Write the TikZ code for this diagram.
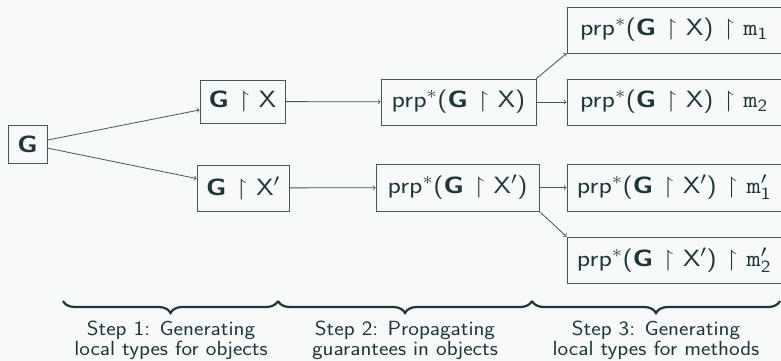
\documentclass[tikz,border=0pt]{standalone}
\usepackage{amssymb}
\usepackage{graphicx}
\usetikzlibrary{decorations.pathreplacing}
\definecolor{bgc}{HTML}{F8F9F9}
\definecolor{txt}{HTML}{1F363B}
\definecolor{lnc}{HTML}{44575B}
\newcommand{\Gb}{\textbf{G}}
\newcommand{\rs}{\hspace{0.33em}$\upharpoonright$\hspace{0.33em}}
\newcommand{\bx}[1]{\scalebox{1.18}[1]{#1}}
\newcommand{\cx}[1]{\scalebox{1.1}[1]{#1}}
\begin{document}
\begin{tikzpicture}[x=1pt,y=-1pt,
  box/.style={draw=lnc, line width=0.9pt, text=txt, font=\sffamily\fontsize{23.5}{28}\selectfont,
     inner xsep=0pt, inner ysep=0pt},
  conn/.style={->, draw=lnc, line width=0.8pt},
  brc/.style={decorate, decoration={brace, mirror, amplitude=12pt}, draw=txt, line width=2.2pt},
  captxt/.style={text=txt, font=\sffamily\fontsize{20.5}{20}\selectfont, align=center}]
\fill[bgc] (0,0) rectangle (781,361);
\useasboundingbox (0,0) rectangle (781,361);
\node[box, minimum width=39pt, minimum height=38pt] (G) at (27.5,144) {\bx{\Gb}};
\node[box, minimum width=85pt, minimum height=43pt] (GX) at (242.5,101.5) {\bx{\Gb\rs X}};
\node[box, minimum width=92pt, minimum height=46pt] (GXp) at (243,188) {\bx{\Gb\rs X$'$}};
\node[box, minimum width=155pt, minimum height=46pt] (P1) at (458.5,102) {\bx{prp$^*$(\Gb\rs X)}};
\node[box, minimum width=163pt, minimum height=47pt] (P2) at (457.5,187.5) {\bx{prp$^*$(\Gb\rs X$'$)}};
\node[box, minimum width=214pt, minimum height=46pt, anchor=west] (M1) at (566.5,30) {\bx{prp$^*$(\Gb\rs X)\rs\texttt{m}$_{\mathsf{1}}$}};
\node[box, minimum width=214pt, minimum height=46pt, anchor=west] (M2) at (566.5,102) {\bx{prp$^*$(\Gb\rs X)\rs\texttt{m}$_{\mathsf{2}}$}};
\node[box, minimum width=214pt, minimum height=47pt, anchor=west] (M1p) at (566.5,187.5) {\bx{prp$^*$(\Gb\rs X$'$)\rs\texttt{m}$'_{\mathsf{1}}$}};
\node[box, minimum width=214pt, minimum height=46pt, anchor=west] (M2p) at (566.5,260) {\bx{prp$^*$(\Gb\rs X$'$)\rs\texttt{m}$'_{\mathsf{2}}$}};
\draw[conn] (G) -- (GX);
\draw[conn] (G) -- (GXp);
\draw[conn] (GX) -- (P1);
\draw[conn] (GXp) -- (P2);
\draw[conn] (P1.north east) -- (M1.south west);
\draw[conn] (P1) -- (M2);
\draw[conn] (P2) -- (M1p);
\draw[conn] (P2.south east) -- (M2p.north west);
\coordinate (b0) at (63,301);
\coordinate (b1) at (278,301);
\coordinate (b2) at (532,301);
\coordinate (b3) at (780,301);
\draw[brc] (b0) -- (b1);
\draw[brc] (b1) -- (b2);
\draw[brc] (b2) -- (b3);
\node[captxt] (c1) at (171,340) {\cx{Step 1: Generating}\\\cx{local types for objects}};
\node[captxt] (c2) at (405,340) {\cx{Step 2: Propagating}\\\cx{guarantees in objects}};
\node[captxt] (c3) at (656,340) {\cx{Step 3: Generating}\\\cx{local types for methods}};
\end{tikzpicture}
\end{document}
